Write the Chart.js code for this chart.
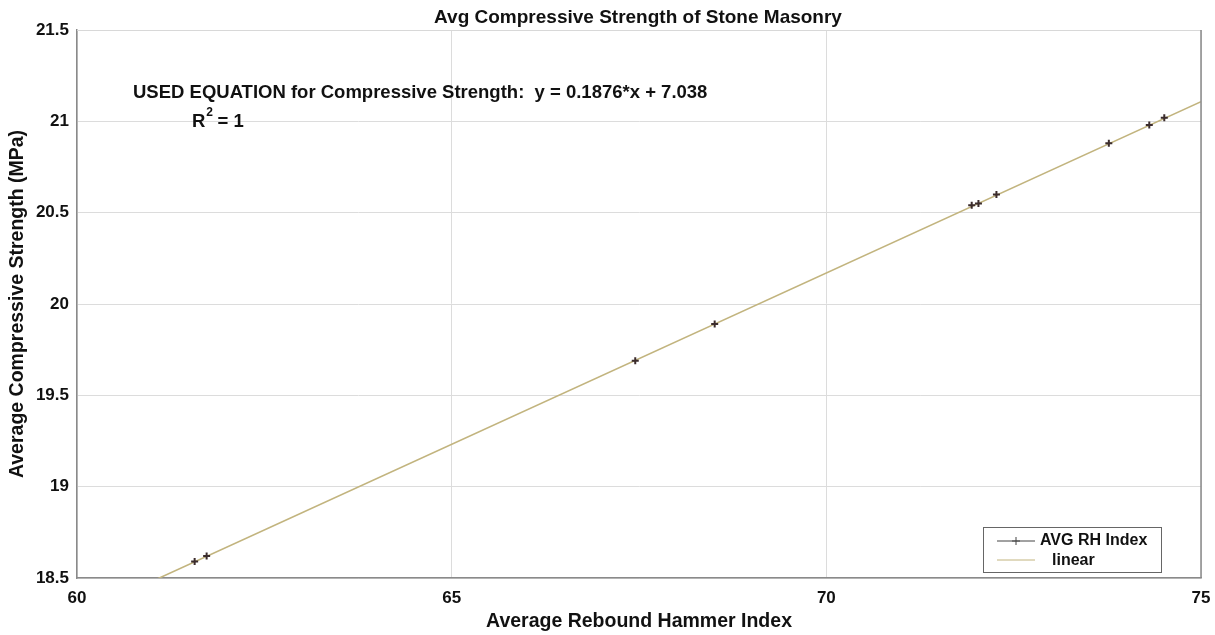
<!DOCTYPE html>
<html>
<head>
<meta charset="utf-8">
<script src="https://cdn.jsdelivr.net/npm/chart.js@4/dist/chart.umd.min.js"></script>
<style>
  html, body { margin: 0; padding: 0; background: #fff; }
  #wrap { position: relative; width: 1215px; height: 635px; }
</style>
</head>
<body>
<div id="wrap"><canvas id="c" width="1215" height="635"></canvas></div>
<script>
// lecturas del gráfico original
const rhIndex = [61.57, 61.73, 67.45, 68.51, 71.94, 72.03, 72.27, 73.77, 74.31, 74.51];
const strength = [18.59, 18.62, 19.69, 19.89, 20.54, 20.55, 20.60, 20.88, 20.98, 21.02];
// extremos de la recta ajustada (y = 0.1876*x + 7.038)
const fitX = [60, 75];
const fitY = [18.294, 21.108];
const xTicks = [60, 65, 70, 75];
const yTicks = [18.5, 19, 19.5, 20, 20.5, 21, 21.5];

const FONT = '"Liberation Sans", Arial, sans-serif';
const LINE_COL = '#c2b47e';
const MARK_COL = '#3b2c2c';

// título, anotación y leyenda dibujados a mano (estilo MATLAB)
const extras = {
  id: 'extras',
  afterDraw(chart) {
    const { ctx, chartArea: a } = chart;
    ctx.save();
    // borde del eje
    ctx.strokeStyle = '#d8d8d8';
    ctx.lineWidth = 1;
    ctx.beginPath(); ctx.moveTo(a.left, a.top + 0.5); ctx.lineTo(a.right, a.top + 0.5); ctx.stroke();
    ctx.strokeStyle = '#8a8a8a';
    ctx.lineWidth = 1.5;
    ctx.beginPath(); ctx.moveTo(a.right, a.top); ctx.lineTo(a.right, a.bottom); ctx.stroke();

    ctx.fillStyle = '#111';
    ctx.textBaseline = 'middle';
    ctx.font = `bold 19px ${FONT}`;
    ctx.textAlign = 'center';
    ctx.fillText('Avg Compressive Strength of Stone Masonry', 638, 18);

    ctx.textAlign = 'left';
    ctx.font = `bold 18.5px ${FONT}`;
    ctx.fillText('USED EQUATION for Compressive Strength:  y = 0.1876*x + 7.038', 133, 93);
    ctx.fillText('R', 192, 122);
    const rw = ctx.measureText('R').width;
    ctx.font = `bold 12px ${FONT}`;
    ctx.fillText('2', 192 + rw + 1, 113);
    ctx.font = `bold 18.5px ${FONT}`;
    ctx.fillText(' = 1', 192 + rw + 7, 122);

    // leyenda
    const lx = 983, ly = 527, lw = 178, lh = 45;
    ctx.fillStyle = '#fff';
    ctx.fillRect(lx, ly, lw, lh);
    ctx.strokeStyle = '#666';
    ctx.lineWidth = 1;
    ctx.strokeRect(lx + 0.5, ly + 0.5, lw, lh);
    ctx.strokeStyle = '#444';
    ctx.beginPath(); ctx.moveTo(997, 541); ctx.lineTo(1035, 541); ctx.stroke();
    ctx.beginPath(); ctx.moveTo(1016, 537); ctx.lineTo(1016, 545); ctx.moveTo(1012, 541); ctx.lineTo(1020, 541); ctx.stroke();
    ctx.strokeStyle = LINE_COL;
    ctx.beginPath(); ctx.moveTo(997, 560); ctx.lineTo(1035, 560); ctx.stroke();
    ctx.fillStyle = '#111';
    ctx.font = `bold 16px ${FONT}`;
    ctx.fillText('AVG RH Index', 1040, 541);
    ctx.fillText('linear', 1052, 561);
    ctx.restore();
  }
};

new Chart(document.getElementById('c'), {
  type: 'scatter',
  data: {
    datasets: [
      {
        label: 'AVG RH Index',
        data: rhIndex.map((x, i) => ({ x, y: strength[i] })),
        showLine: false,
        pointStyle: 'cross',
        pointRadius: 3.5,
        borderColor: MARK_COL,
        backgroundColor: MARK_COL,
        borderWidth: 2,
        order: 0,
      },
      {
        label: 'linear',
        data: fitX.map((x, i) => ({ x, y: fitY[i] })),
        showLine: true,
        pointRadius: 0,
        borderColor: LINE_COL,
        borderWidth: 1.6,
        order: 1,
      },
    ],
  },
  options: {
    responsive: false, animation: false,
    layout: { padding: { left: 0, right: 14, top: 30, bottom: 0 } },
    plugins: { legend: { display: false }, title: { display: false }, tooltip: { enabled: false } },
    scales: {
      x: {
        type: 'linear', min: 60, max: 75,
        afterBuildTicks: (s) => { s.ticks = xTicks.map(v => ({ value: v })); },
        afterFit: (s) => { s.height = 57; s.paddingLeft = 0; s.paddingRight = 0; },
        grid: { color: '#dcdcdc', tickLength: 0, drawTicks: false },
        border: { color: '#8a8a8a', width: 1.5 },
        ticks: { color: '#111', padding: 10, font: { family: FONT, size: 17, weight: 'bold' } },
        title: { display: true, text: 'Average Rebound Hammer Index', color: '#111', padding: { top: 0, bottom: 2 },
                 font: { family: FONT, size: 19.5, weight: 'bold' } },
      },
      y: {
        type: 'linear', min: 18.5, max: 21.5,
        afterBuildTicks: (s) => { s.ticks = yTicks.map(v => ({ value: v })); },
        afterFit: (s) => { s.width = 77; s.paddingTop = 0; s.paddingBottom = 0; },
        grid: { color: '#dcdcdc', drawTicks: false },
        border: { color: '#8a8a8a', width: 1.5 },
        ticks: { color: '#111', padding: 8, callback: (v) => String(v),
                 font: { family: FONT, size: 17, weight: 'bold' } },
        title: { display: true, text: 'Average Compressive Strength (MPa)', color: '#111', padding: { top: 6, bottom: 4 },
                 font: { family: FONT, size: 19.5, weight: 'bold' } },
      },
    },
  },
  plugins: [extras],
});
</script>
</body>
</html>
